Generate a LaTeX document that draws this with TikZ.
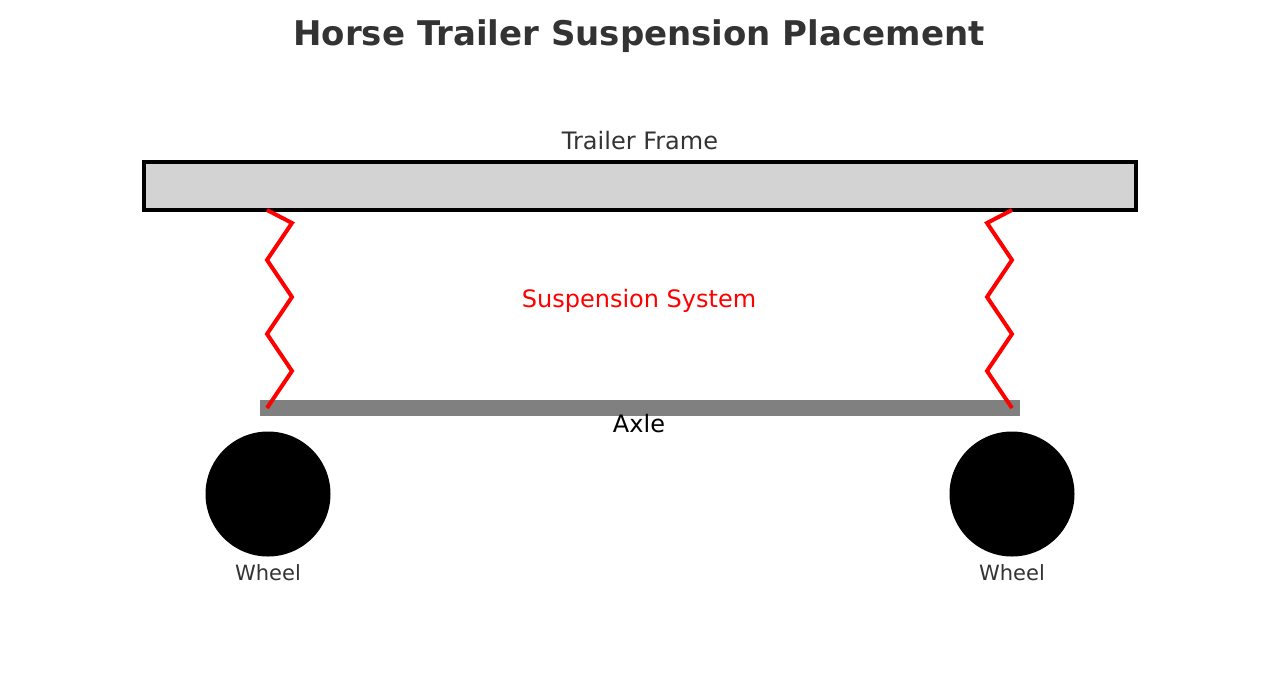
\documentclass[tikz,border=0pt]{standalone}
\usepackage{fontspec}
\setmainfont{DejaVu Sans}
\definecolor{dk}{HTML}{333333}
\begin{document}
\begin{tikzpicture}[x=1pt,y=-1pt,
  lbl/.style={font=\fontsize{24}{28}\selectfont,inner sep=0},
  spring/.style={red,line width=4pt,line join=miter},
  wheel/.style={circle,fill=black,minimum size=125pt,inner sep=0}]
\useasboundingbox (0,0) rectangle (1280,699);
\node[font=\fontsize{34}{40}\selectfont\bfseries,text=dk] (title) at (639,36) {Horse Trailer Suspension Placement};
\node[draw=black,line width=4pt,fill={rgb,255:red,211;green,211;blue,211},minimum width=992pt,minimum height=48pt,inner sep=0] (frame) at (640,186) {};
\node[lbl,text=dk] (fl) at (640,141) {Trailer Frame};
\node[fill={rgb,255:red,128;green,128;blue,128},minimum width=760pt,minimum height=16pt,inner sep=0] (axle) at (640,408) {};
\node[lbl] (al) at (639,424) {Axle};
\node[lbl,text=red] (sl) at (639,301) {Suspension System};
\draw[spring] (267,210)--(292,223)--(267,260)--(292,297)--(267,334)--(292,371)--(267,408);
\draw[spring] (1012,210)--(987,223)--(1012,260)--(987,297)--(1012,334)--(987,371)--(1012,408);
\node[wheel] (w1) at (268,494) {};
\node[wheel] (w2) at (1012,494) {};
\node[font=\fontsize{21}{25}\selectfont,text=dk] (wl1) at (268,573) {Wheel};
\node[font=\fontsize{21}{25}\selectfont,text=dk] (wl2) at (1012,573) {Wheel};
\end{tikzpicture}
\end{document}
